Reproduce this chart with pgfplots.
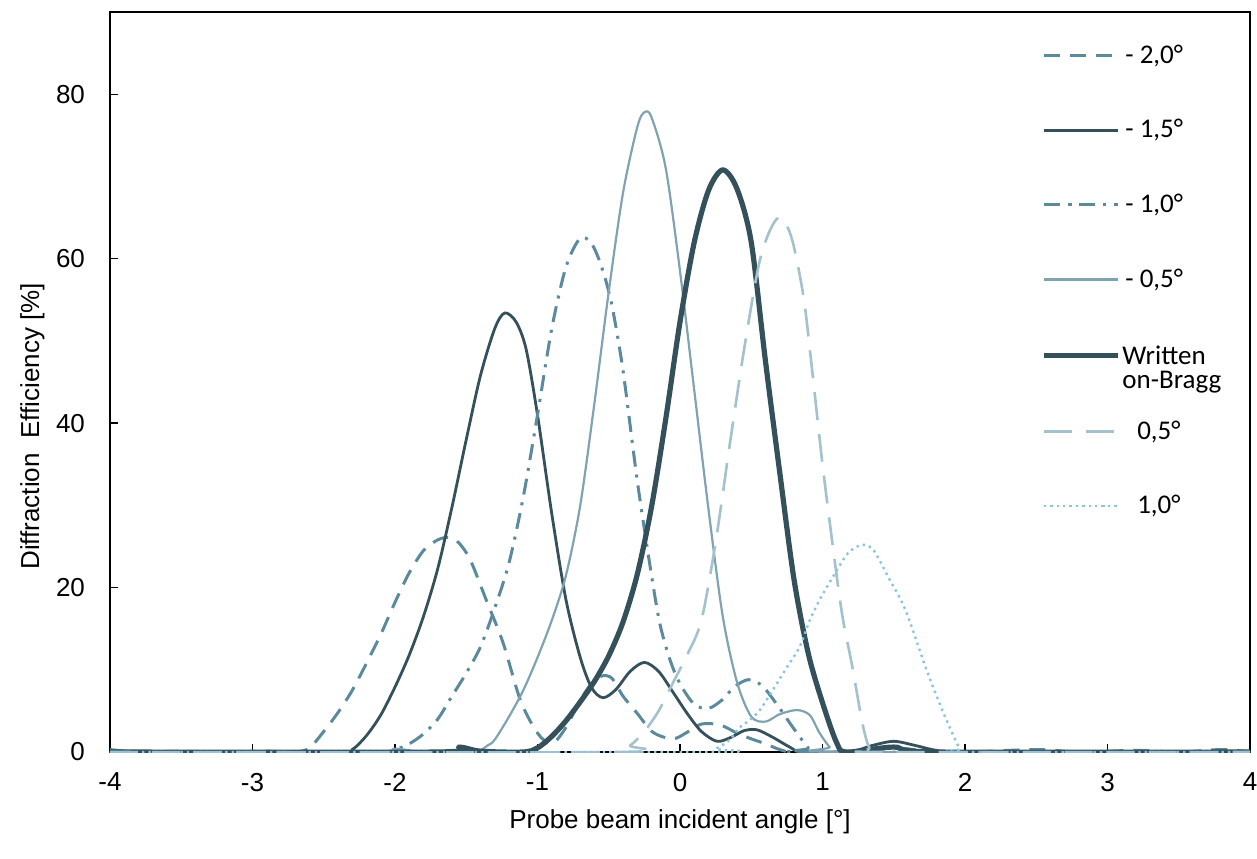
\documentclass[border=0pt]{standalone}
\usepackage{fontspec}
\setmainfont{Liberation Sans}
\newfontfamily\legfont{Carlito}
\usepackage{pgfplots}
\pgfplotsset{compat=1.18}
\definecolor{cdark}{HTML}{34505B}
\definecolor{cmed}{HTML}{5A8A9C}
\definecolor{cthin}{HTML}{7FA3B0}
\definecolor{clight}{HTML}{A3C2CE}
\definecolor{cdot}{HTML}{8CC4DD}
\begin{document}
\begin{tikzpicture}
\begin{axis}[name=ax, scale only axis, width=570pt, height=370pt,
  xmin=-4, xmax=4, ymin=0, ymax=90,
  xtick={-4,-3,-2,-1,0,1,2,3,4}, ytick={0,20,40,60,80},
  tick align=inside, tick pos=left, major tick length=4pt,
  axis line style={line width=0.8pt, black},
  tick style={line width=0.7pt, black},
  /pgf/number format/assume math mode=true,
  ticklabel style={font=\fontsize{13}{15}\selectfont},
  xticklabel style={yshift=-7pt},
  yticklabel style={xshift=-9pt},
  xlabel={Probe beam incident angle [°]},
  ylabel={Diffraction\ \ Efficiency [\%]},
  label style={font=\fontsize{13}{15}\selectfont},
  xlabel style={at={(axis description cs:0.5,0)}, anchor=center, yshift=-35pt},
  ylabel style={at={(axis description cs:-0.068,0.44)}, anchor=center},
  legend style={at={(axis cs:2.49,86.8)}, anchor=north west, draw=none, fill=none,
    font=\legfont\fontsize{13.5}{15}\selectfont, row sep=24.6pt,
    nodes={inner sep=1pt}},
  legend cell align=left,
  legend image code/.code={\draw[#1] plot coordinates {(0pt,0pt) (37pt,0pt)};},
  every axis plot/.append style={smooth, line join=round}
]
% -2,0
\addplot[color=cmed, line width=1.5pt, dash pattern=on 8pt off 5pt] coordinates {
(-4,0.3) (-3.8,0) (-3.5,0.1) (-3.2,0) (-2.9,0.1) (-2.7,0) (-2.6,0.5) (-2.5,2.5) (-2.4,4.8) (-2.3,7.5) (-2.2,10.8) (-2.1,14.3) (-2.0,18.2) (-1.9,21.8) (-1.8,24.5) (-1.7,25.8) (-1.62,26.1) (-1.55,25.4) (-1.47,23.3) (-1.36,18.5) (-1.24,13.2) (-1.12,6.3) (-1.0,2.3) (-0.9,1.0) (-0.8,3) (-0.7,6.3) (-0.6,8.8) (-0.52,9.3) (-0.47,8.8) (-0.4,6.8) (-0.3,4.7) (-0.19,2.4) (-0.05,1.6) (0.05,2.4) (0.15,3.4) (0.28,3.3) (0.4,2.3) (0.5,1.6) (0.6,1.0) (0.7,0.3) (0.8,0) (1.2,0) (1.5,0.5) (1.7,0.2) (2.0,0) (2.5,0.3) (2.8,0) (3.2,0.2) (3.5,0) (3.8,0.3) (4,0)};
\addlegendentry{\hspace{1.5pt}- 2,0°}
% -1,5
\addplot[color=cdark, line width=1.4pt] coordinates {
(-4,0) (-2.4,0) (-2.3,0.3) (-2.2,2) (-2.1,4.5) (-2.0,7.9) (-1.9,11.8) (-1.8,16.5) (-1.7,22.3) (-1.6,29.8) (-1.5,38) (-1.4,45.8) (-1.3,51.5) (-1.23,53.4) (-1.15,52.3) (-1.08,49) (-1.0,41) (-0.9,29) (-0.8,18.5) (-0.7,11.5) (-0.62,7.8) (-0.54,6.6) (-0.45,7.6) (-0.35,9.8) (-0.25,10.9) (-0.15,9.8) (-0.05,7.3) (0.05,4.7) (0.15,2.5) (0.26,1.3) (0.36,1.8) (0.45,2.6) (0.54,2.7) (0.65,1.8) (0.77,0.6) (0.86,0) (1.2,0.1) (1.35,0.8) (1.5,1.3) (1.65,0.8) (1.8,0.2) (2.0,0) (4,0)};
\addlegendentry{\hspace{1.5pt}- 1,5°}
% -1,0
\addplot[color=cmed, line width=1.5pt, dash pattern=on 8pt off 4pt on 1.5pt off 4pt] coordinates {
(-4,0) (-2.1,0) (-2.0,0.3) (-1.9,1) (-1.8,2.2) (-1.7,4) (-1.6,6.8) (-1.5,9.6) (-1.4,12.8) (-1.3,17.5) (-1.2,23) (-1.1,31) (-1.0,41) (-0.9,51.5) (-0.8,59) (-0.7,62.5) (-0.62,61.8) (-0.55,59) (-0.48,54.5) (-0.4,46.4) (-0.3,33) (-0.2,21.5) (-0.14,15.5) (-0.07,11.2) (0.0,8.3) (0.1,5.8) (0.2,5.3) (0.3,6.4) (0.38,7.9) (0.48,8.8) (0.58,8.0) (0.7,5.3) (0.8,2.8) (0.9,0.5) (0.95,0) (4,0)};
\addlegendentry{\hspace{1.5pt}- 1,0°}
% -0,5
\addplot[color=cthin, line width=1.1pt] coordinates {
(-4,0) (-2.2,0) (-2.0,0.4) (-1.8,0) (-1.45,0) (-1.35,0.8) (-1.3,1.5) (-1.2,4.3) (-1.1,7.5) (-1.0,11.5) (-0.9,16) (-0.8,21.5) (-0.7,30) (-0.6,42.5) (-0.5,56) (-0.4,68) (-0.3,76) (-0.25,77.8) (-0.2,77.2) (-0.1,71) (0.0,58.5) (0.1,44) (0.2,29.5) (0.3,16.5) (0.4,8.5) (0.5,4.3) (0.6,3.7) (0.7,4.6) (0.82,5.1) (0.91,4.5) (0.98,2.3) (1.05,0.6) (1.1,0) (4,0)};
\addlegendentry{\hspace{1.5pt}- 0,5°}
% Written on-Bragg
\addplot[color=cdark, line width=2.6pt] coordinates {
(-4,0) (-1.7,0) (-1.55,0.6) (-1.4,0.1) (-1.1,0) (-1.0,0.5) (-0.9,1.9) (-0.8,3.8) (-0.7,6.1) (-0.6,8.6) (-0.5,11.7) (-0.4,15.8) (-0.3,21.6) (-0.2,29.8) (-0.1,40.5) (0.0,52.3) (0.1,62) (0.2,68.3) (0.3,70.8) (0.4,68.5) (0.5,62) (0.6,47.5) (0.7,34) (0.8,21) (0.9,12) (1.0,6) (1.1,1.1) (1.17,0) (1.5,0.6) (1.8,0) (4,0)};
\addlegendentry{\strut\smash{\begin{tabular}[t]{@{}l@{}}Written\\[-3pt]on-Bragg\end{tabular}}}
% 0,5
\addplot[color=clight, line width=1.3pt, dash pattern=on 14pt off 7pt] coordinates {
(-4,0) (-0.45,0) (-0.35,0.8) (-0.25,2.5) (-0.15,5) (-0.05,8.4) (0.05,11.8) (0.15,16) (0.25,25.5) (0.35,37.5) (0.45,49) (0.55,59) (0.62,63) (0.69,65) (0.75,64) (0.8,61.4) (0.87,55) (0.93,46) (1.0,35) (1.08,24) (1.14,16.5) (1.21,10.3) (1.28,3.5) (1.33,0.5) (1.4,0) (4,0)};
\addlegendentry{\hspace{0.55em}0,5°}
% 1,0
\addplot[color=cdot, line width=1.2pt, dash pattern=on 1.2pt off 2pt] coordinates {
(-4,0) (0.15,0) (0.25,0.4) (0.35,1.5) (0.42,3) (0.49,3.9) (0.56,5.1) (0.65,7.5) (0.75,10.3) (0.84,12.8) (0.91,16) (0.98,18.5) (1.08,21.5) (1.18,24.2) (1.28,25.2) (1.36,24.5) (1.47,21) (1.55,18.5) (1.61,16) (1.73,10) (1.85,4.7) (1.96,0.5) (2.0,0) (4,0)};
\addlegendentry{\hspace{0.55em}1,0°}
\end{axis}
\pgfresetboundingbox
\path (ax.south west) ++(-55pt,-53pt) rectangle ++(628.5pt,429pt);
\end{tikzpicture}
\end{document}
